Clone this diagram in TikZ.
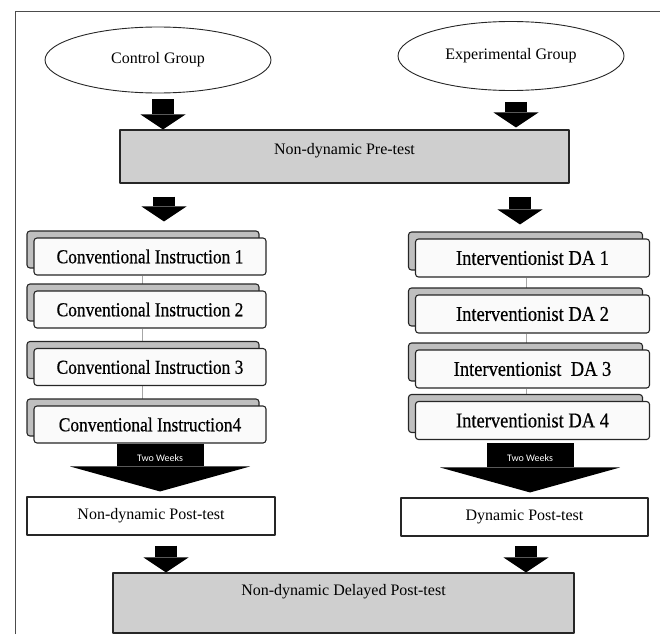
\documentclass[tikz,border=0pt]{standalone}
\usepackage{fontspec}
\setmainfont{Liberation Serif}
\newfontfamily\sessfont[FakeStretch=0.88,FakeBold=0.5]{Liberation Serif}
\newfontfamily\twfont{Carlito}
\usetikzlibrary{shapes.geometric,arrows.meta,shadows,backgrounds}
\begin{document}
\begin{tikzpicture}[x=1pt,y=-1pt,line join=round,
    font=\fontsize{16}{19}\selectfont,
    group/.style={ellipse,draw=black!85,line width=.9pt,fill=white,inner sep=0pt},
    testbox/.style={rectangle,draw=black!85,line width=1.1pt,inner sep=0pt},
    sessbox/.style={rectangle,rounded corners=3pt,draw=black!85,line width=1.1pt,fill=gray!4,
      minimum height=37pt,inner sep=0pt,
      copy shadow={shadow xshift=-7pt,shadow yshift=7pt,fill=gray!50,draw=black!85,line width=1.1pt}},
    blockarrow/.style={line width=22pt,-{Triangle[width=45pt,length=15pt,line width=0pt]}},
    waitarrow/.style={line width=87pt,-{Triangle[width=180pt,length=25pt,line width=0pt]}},
    waittext/.style={text=white,font=\twfont\fontsize{10}{12}\selectfont},
    link/.style={draw=gray!70,line width=.8pt}]
    \useasboundingbox (0,0) rectangle (660,634);
    \draw[gray!60!black,line width=1pt] (15,634) -- (15,12) -- (660,12);
    % groups and pre-test
    \node[group,minimum width=226pt,minimum height=66pt] (cg) at (158,60) {Control Group};
    \node[group,minimum width=226pt,minimum height=69pt] (eg) at (511,56) {Experimental Group};
    \node[testbox,fill=gray!38,minimum width=449pt,text height=24pt,text depth=29pt] (pre) at (344.5,156.5) {Non-dynamic Pre-test};
    % treatment sessions
    \foreach \i/\y/\t in {1/256.5/Conventional Instruction 1,2/309.5/Conventional Instruction 2,
        3/367/Conventional Instruction 3,4/424.5/Conventional Instruction4}
      \node[sessbox,minimum width=232pt,font=\sessfont\fontsize{19.8}{22}\selectfont] (ci\i) at (150,\y) {\t};
    \foreach \i/\y/\t in {1/258/Interventionist DA 1,2/314/Interventionist DA 2,
        3/369/Interventionist~ DA 3,4/420.5/Interventionist DA 4}
      \node[sessbox,minimum width=234pt,minimum height=38pt,font=\sessfont\fontsize{21}{23}\selectfont] (da\i) at (532.5,\y) {\t};
    \begin{scope}[on background layer]
      \foreach \a/\b in {1/2,2/3,3/4} {
        \draw[link] ([xshift=-8pt]ci\a.south) -- ([xshift=-8pt]ci\b.north);
        \draw[link] ([xshift=-6pt]da\a.south) -- ([xshift=-6pt]da\b.north);
      }
    \end{scope}
    % post-tests
    \node[testbox,fill=white,minimum width=248pt,minimum height=38pt] (post1) at (151,516) {Non-dynamic Post-test};
    \node[testbox,fill=white,minimum width=247pt,minimum height=38pt] (post2) at (524.5,517) {Dynamic Post-test};
    \node[testbox,fill=gray!38,minimum width=461pt,text height=22pt,text depth=38pt] (delay) at (343.5,603) {Non-dynamic Delayed Post-test};
    % block arrows
    \draw[blockarrow,shorten <=6pt] ([xshift=5pt]cg.south) -- ([xshift=5pt]cg.south |- pre.north);
    \draw[blockarrow,shorten <=11pt,shorten >=2pt] ([xshift=5pt]eg.south) -- ([xshift=5pt]eg.south |- pre.north);
    \draw[blockarrow,shorten <=13pt,shorten >=16pt] ([xshift=6pt]pre.south -| cg) -- ([xshift=6pt]ci1.north -| cg);
    \draw[blockarrow,shorten <=13pt,shorten >=14pt] ([xshift=9pt]pre.south -| eg) -- ([xshift=9pt]da1.north -| eg);
    \draw[waitarrow,shorten >=5pt] ([xshift=10pt]ci4.south) -- ([xshift=10pt]ci4.south |- post1.north)
      node[waittext,pos=.28] (tw1) {Two Weeks};
    \draw[waitarrow,shorten <=3pt,shorten >=5pt] ([xshift=-2.5pt]da4.south) -- ([xshift=-2.5pt]da4.south |- post2.north)
      node[waittext,pos=.32] (tw2) {Two Weeks};
    \draw[blockarrow,shorten <=10pt] ([xshift=15pt]post1.south) -- ([xshift=15pt]post1.south |- delay.north);
    \draw[blockarrow,shorten <=9pt] ([xshift=1.5pt]post2.south) -- ([xshift=1.5pt]post2.south |- delay.north);
\end{tikzpicture}
\end{document}
